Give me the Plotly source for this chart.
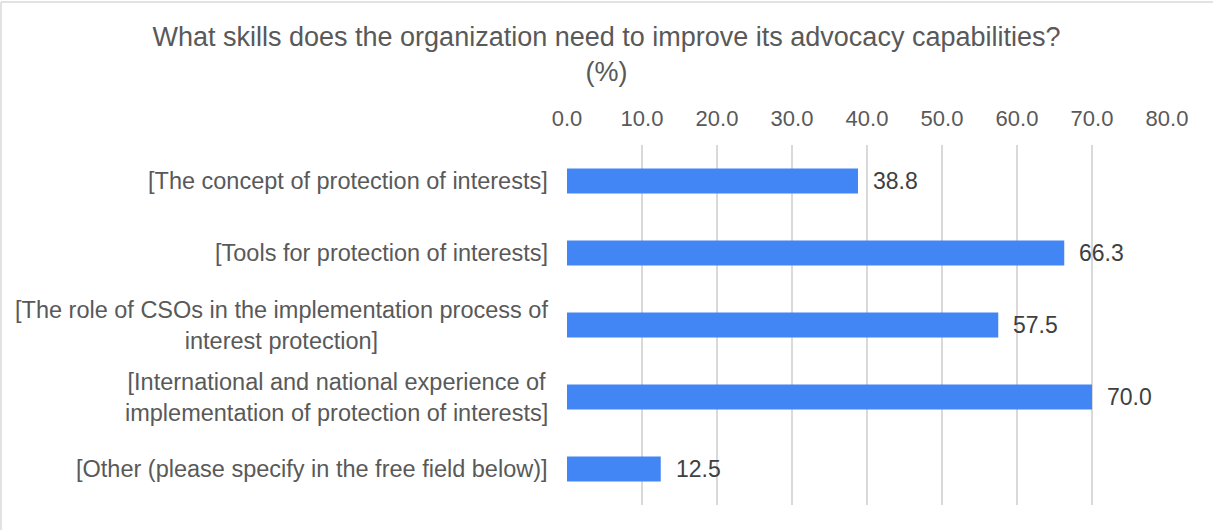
import plotly.graph_objects as go

categories = [
    "[The concept of protection of interests]",
    "[Tools for protection of interests]",
    "[The role of CSOs in the implementation process of<br>interest protection]",
    "[International and national experience of<br>implementation of protection of interests]",
    "[Other (please specify in the free field below)]",
]
values = [38.8, 66.3, 57.5, 70.0, 12.5]
tick_values = [0, 10, 20, 30, 40, 50, 60, 70, 80]
tick_labels = ["0.0", "10.0", "20.0", "30.0", "40.0", "50.0", "60.0", "70.0", "80.0"]

W, H = 1213, 530
ML, MR, MT, MB = 567, 46, 145, 25
FONT = "Liberation Sans, Arial, sans-serif"

fig = go.Figure(
    go.Bar(
        x=values,
        y=categories,
        orientation="h",
        width=0.35,
        marker=dict(color="#4285F4", line=dict(width=0)),
        hoverinfo="skip",
    )
)

# value labels next to the bar ends
for cat, v in zip(categories, values):
    fig.add_annotation(
        x=v, y=cat, xref="x", yref="y",
        text=f"{v:.1f}", showarrow=False,
        xanchor="left", yanchor="middle", xshift=13,
        font=dict(family=FONT, size=23, color="#404040"),
    )

# category labels, centred per line and right-aligned to the axis
for cat in categories:
    fig.add_annotation(
        x=0, y=cat, xref="paper", yref="y",
        text=cat, showarrow=False,
        xanchor="right", yanchor="middle", xshift=-17, align="center",
        font=dict(family=FONT, size=23.5, color="#595959"),
    )

# thin frame along the top and left edges
def px_x(p):
    return (p - ML) / (W - ML - MR)

def px_y(p):
    return (H - MB - p) / (H - MT - MB)

fig.add_shape(type="line", xref="paper", yref="paper",
              x0=px_x(1), x1=px_x(W), y0=px_y(2), y1=px_y(2),
              line=dict(color="#D9D9D9", width=1.5))
fig.add_shape(type="line", xref="paper", yref="paper",
              x0=px_x(1), x1=px_x(1), y0=px_y(2), y1=px_y(H),
              line=dict(color="#D9D9D9", width=1.5))

fig.update_layout(
    width=W, height=H,
    margin=dict(l=ML, r=MR, t=MT, b=MB),
    paper_bgcolor="white", plot_bgcolor="white",
    showlegend=False,
    title=dict(
        text="What skills does the organization need to improve its advocacy capabilities?<br>(%)",
        x=0.5, xref="container", xanchor="center",
        y=1 - 46 / H, yref="container", yanchor="top",
        font=dict(family=FONT, size=27, color="#595959"),
    ),
    xaxis=dict(
        side="top", range=[0, 80],
        tickvals=tick_values, ticktext=tick_labels,
        showgrid=True, gridcolor="#D9D9D9", gridwidth=1.5,
        zeroline=False, showline=False, ticks="",
        ticklabelstandoff=14,
        tickfont=dict(family=FONT, size=22, color="#595959"),
    ),
    yaxis=dict(
        autorange="reversed", showticklabels=False,
        showgrid=False, zeroline=False, showline=False, ticks="",
    ),
)

fig.write_html("out.html")
